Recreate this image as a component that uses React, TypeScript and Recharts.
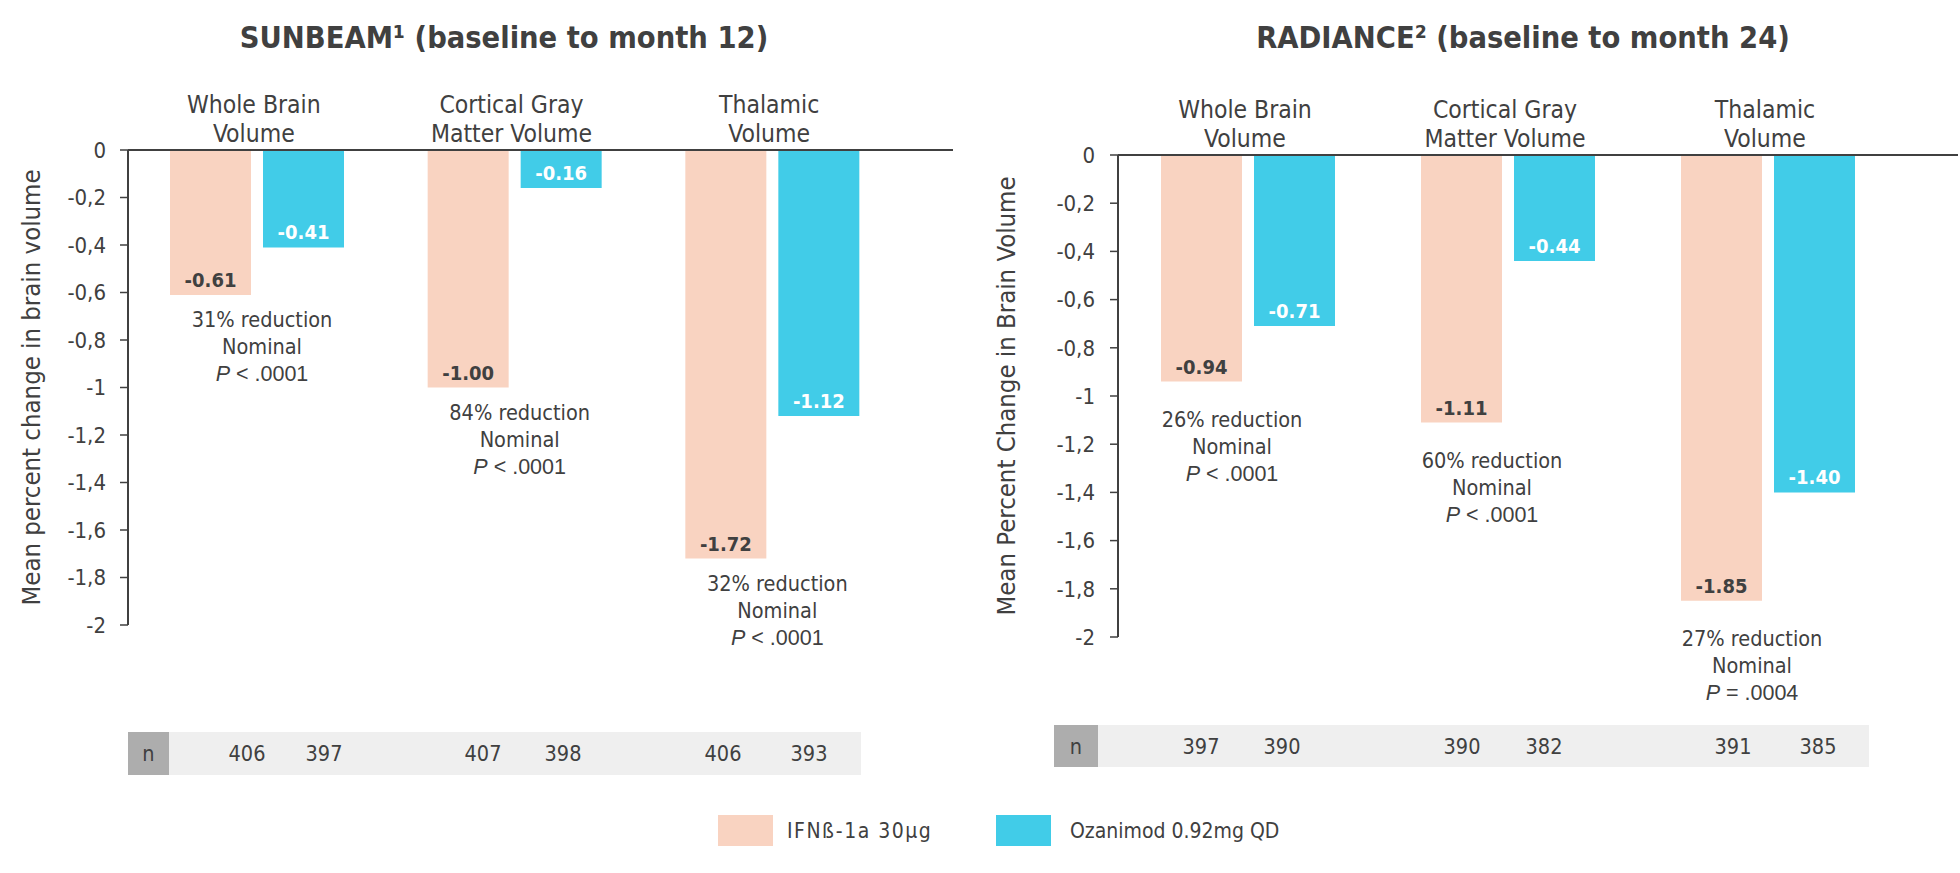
import React from 'react';
import { BarChart, Bar, XAxis, YAxis, LabelList } from 'recharts';

// ---------- data ----------
const categoryLine1 = ['Whole Brain', 'Cortical Gray', 'Thalamic'];
const categoryLine2 = ['Volume', 'Matter Volume', 'Volume'];
const yTicks = [0, -0.2, -0.4, -0.6, -0.8, -1, -1.2, -1.4, -1.6, -1.8, -2];
const seriesNames = ['IFNß-1a 30µg', 'Ozanimod 0.92mg QD'];

const sunbeamTitle = 'SUNBEAM¹ (baseline to month 12)';
const sunbeamYLabel = 'Mean percent change in brain volume';
const sunbeamIfn = [-0.61, -1.0, -1.72];
const sunbeamOza = [-0.41, -0.16, -1.12];
const sunbeamReduction = ['31% reduction', '84% reduction', '32% reduction'];
const sunbeamP = ['< .0001', '< .0001', '< .0001'];
const sunbeamNIfn = [406, 407, 406];
const sunbeamNOza = [397, 398, 393];

const radianceTitle = 'RADIANCE² (baseline to month 24)';
const radianceYLabel = 'Mean Percent Change in Brain Volume';
const radianceIfn = [-0.94, -1.11, -1.85];
const radianceOza = [-0.71, -0.44, -1.4];
const radianceReduction = ['26% reduction', '60% reduction', '27% reduction'];
const radianceP = ['< .0001', '< .0001', '= .0004'];
const radianceNIfn = [397, 390, 391];
const radianceNOza = [390, 382, 385];

// ---------- style ----------
const FONT = '"DejaVu Sans Condensed", "DejaVu Sans", sans-serif';
const PFONT = '"Liberation Sans", Arial, sans-serif';
const TEXT = '#404040';
const AXIS = '#404040';
const PEACH = '#F9D3C1';
const CYAN = '#41CCE8';
const N_DARK = '#ADADAD';
const N_LIGHT = '#EFEFEF';
const BAR_SIZE = 81;
const BAR_GAP = 12;
const X_AXIS_H = 70;

const fmt = (v: number) => String(Math.round(v * 10) / 10).replace('.', ',');

type PanelProps = {
  ifn: number[];
  oza: number[];
  reduction: string[];
  pText: string[];
  yLabel: string;
  left: number;
  width: number;
  height: number;
  top: number;
  bottom: number;
  right: number;
  yAxisWidth: number;
  padRight: number;
  tickMargin: number;
  yLabelX: number;
  noteGap: number;
  noteDx: number;
};

function Panel(p: PanelProps) {
  const data = categoryLine1.map((c, i) => ({
    cat: c + ' ' + categoryLine2[i],
    ifn: p.ifn[i],
    oza: p.oza[i],
  }));

  const catTick = (props: any) => {
    const { x, y, index } = props;
    const i = props.payload && props.payload.index != null ? props.payload.index : index;
    return (
      <g>
        <text x={x - 3} y={y - 46} textAnchor="middle" dominantBaseline="central" fill={TEXT} fontSize={24.5} fontFamily={FONT}>
          {categoryLine1[i]}
        </text>
        <text x={x - 3} y={y - 17} textAnchor="middle" dominantBaseline="central" fill={TEXT} fontSize={24.5} fontFamily={FONT}>
          {categoryLine2[i]}
        </text>
      </g>
    );
  };

  const yLabel = (props: any) => {
    const vb = props.viewBox || {};
    const cx = (vb.x || 0) + p.yLabelX;
    const cy = (vb.y || 0) + (vb.height || 0) / 2;
    return (
      <text x={cx} y={cy} transform={`rotate(-90, ${cx}, ${cy})`} textAnchor="middle" dominantBaseline="central" fill={TEXT} fontSize={25.5} fontFamily={FONT}>
        {p.yLabel}
      </text>
    );
  };

  const rectOf = (props: any) => {
    const vb = props.viewBox && props.viewBox.width != null ? props.viewBox : props;
    const x = Number(vb.x);
    const y = Number(vb.y);
    const w = Number(vb.width);
    const h = Number(vb.height);
    return { x, w, bottom: Math.max(y, y + h) };
  };

  const valueLabel = (color: string) => (props: any) => {
    const r = rectOf(props);
    const v = Number(props.value);
    return (
      <text x={r.x + r.w / 2} y={r.bottom - 15} textAnchor="middle" dominantBaseline="central" fill={color} fontSize={20} fontWeight="bold" fontFamily={FONT}>
        {v.toFixed(2)}
      </text>
    );
  };

  const noteLabel = (props: any) => {
    const r = rectOf(props);
    const i = props.index;
    const cx = r.x + r.w + BAR_GAP / 2 + p.noteDx;
    const y0 = r.bottom + p.noteGap;
    return (
      <g>
        <text x={cx} y={y0} textAnchor="middle" dominantBaseline="central" fill={TEXT} fontSize={21.5} fontFamily={FONT}>
          {p.reduction[i]}
        </text>
        <text x={cx} y={y0 + 27} textAnchor="middle" dominantBaseline="central" fill={TEXT} fontSize={21.5} fontFamily={FONT}>
          Nominal
        </text>
        <text x={cx} y={y0 + 54} textAnchor="middle" dominantBaseline="central" fill={TEXT} fontSize={21.5} fontFamily={PFONT}>
          <tspan fontStyle="italic">P</tspan>
          <tspan>{' ' + p.pText[i]}</tspan>
        </text>
      </g>
    );
  };

  return (
    <div style={{ position: 'absolute', left: p.left, top: 0 }}>
      <BarChart
        width={p.width}
        height={p.height}
        data={data}
        margin={{ top: p.top - X_AXIS_H, right: p.right, bottom: p.bottom, left: 0 }}
        barGap={BAR_GAP}
        barSize={BAR_SIZE}
      >
        <XAxis
          dataKey="cat"
          orientation="top"
          height={X_AXIS_H}
          tickLine={false}
          tickSize={0}
          tickMargin={0}
          interval={0}
          axisLine={{ stroke: AXIS, strokeWidth: 2 }}
          padding={{ left: 0, right: p.padRight }}
          tick={catTick}
        />
        <YAxis
          type="number"
          domain={[-2, 0]}
          ticks={yTicks}
          interval={0}
          width={p.yAxisWidth}
          tickSize={8}
          tickMargin={p.tickMargin}
          axisLine={{ stroke: AXIS, strokeWidth: 2 }}
          tickLine={{ stroke: AXIS, strokeWidth: 1.5 }}
          tick={{ fill: TEXT, fontSize: 22, fontFamily: FONT }}
          tickFormatter={fmt}
          label={yLabel}
        />
        <Bar dataKey="ifn" fill={PEACH} isAnimationActive={false}>
          <LabelList dataKey="ifn" content={valueLabel(TEXT)} />
          <LabelList dataKey="ifn" content={noteLabel} />
        </Bar>
        <Bar dataKey="oza" fill={CYAN} isAnimationActive={false}>
          <LabelList dataKey="oza" content={valueLabel('#ffffff')} />
        </Bar>
      </BarChart>
    </div>
  );
}

// layout of the sample-size rows (table text, not data marks)
const sunbeamNX = [247, 324, 483, 563, 723, 809];
const radianceNX = [1201, 1282, 1462, 1544, 1733, 1818];

function NRow(props: { x0: number; x1: number; x2: number; y: number; h: number; nIfn: number[]; nOza: number[]; cols: number[] }) {
  const vals: number[] = [];
  props.nIfn.forEach((v, i) => {
    vals.push(v);
    vals.push(props.nOza[i]);
  });
  const cy = props.y + props.h / 2;
  return (
    <g>
      <rect x={props.x1} y={props.y} width={props.x2 - props.x1} height={props.h} fill={N_LIGHT} />
      <rect x={props.x0} y={props.y} width={props.x1 - props.x0} height={props.h} fill={N_DARK} />
      <text x={(props.x0 + props.x1) / 2} y={cy} textAnchor="middle" dominantBaseline="central" fill={TEXT} fontSize={21.5} fontFamily={FONT}>
        n
      </text>
      {vals.map((v, i) => (
        <text key={i} x={props.cols[i]} y={cy} textAnchor="middle" dominantBaseline="central" fill={TEXT} fontSize={21.5} fontFamily={FONT}>
          {v}
        </text>
      ))}
    </g>
  );
}

export default function App() {
  return (
    <div style={{ position: 'absolute', left: 0, top: 0, width: 1960, height: 873, background: '#ffffff', overflow: 'hidden' }}>
      <svg width={1960} height={873} style={{ position: 'absolute', left: 0, top: 0 }}>
        <text x={504} y={48} textAnchor="middle" fill={TEXT} fontSize={30.5} fontWeight="bold" fontFamily={FONT}>
          {sunbeamTitle}
        </text>
        <text x={1523} y={48} textAnchor="middle" fill={TEXT} fontSize={30.5} fontWeight="bold" fontFamily={FONT}>
          {radianceTitle}
        </text>
        <NRow x0={128} x1={169} x2={861} y={732} h={43} nIfn={sunbeamNIfn} nOza={sunbeamNOza} cols={sunbeamNX} />
        <NRow x0={1054} x1={1098} x2={1869} y={725} h={42} nIfn={radianceNIfn} nOza={radianceNOza} cols={radianceNX} />
        <rect x={718} y={815} width={55} height={31} fill={PEACH} />
        <text x={787} y={831} dominantBaseline="central" fill={TEXT} fontSize={21} letterSpacing={1.5} fontFamily={FONT}>
          {seriesNames[0]}
        </text>
        <rect x={996} y={815} width={55} height={31} fill={CYAN} />
        <text x={1070} y={831} dominantBaseline="central" fill={TEXT} fontSize={21} fontFamily={FONT}>
          {seriesNames[1]}
        </text>
      </svg>
      <Panel
        ifn={sunbeamIfn}
        oza={sunbeamOza}
        reduction={sunbeamReduction}
        pText={sunbeamP}
        yLabel={sunbeamYLabel}
        left={0}
        width={960}
        height={780}
        top={150}
        bottom={155}
        right={7}
        yAxisWidth={128}
        padRight={52}
        tickMargin={14}
        yLabelX={31}
        noteGap={25}
        noteDx={5}
      />
      <Panel
        ifn={radianceIfn}
        oza={radianceOza}
        reduction={radianceReduction}
        pText={radianceP}
        yLabel={radianceYLabel}
        left={980}
        width={980}
        height={780}
        top={155}
        bottom={143}
        right={2}
        yAxisWidth={138}
        padRight={60}
        tickMargin={15}
        yLabelX={26}
        noteGap={38}
        noteDx={-16}
      />
    </div>
  );
}
